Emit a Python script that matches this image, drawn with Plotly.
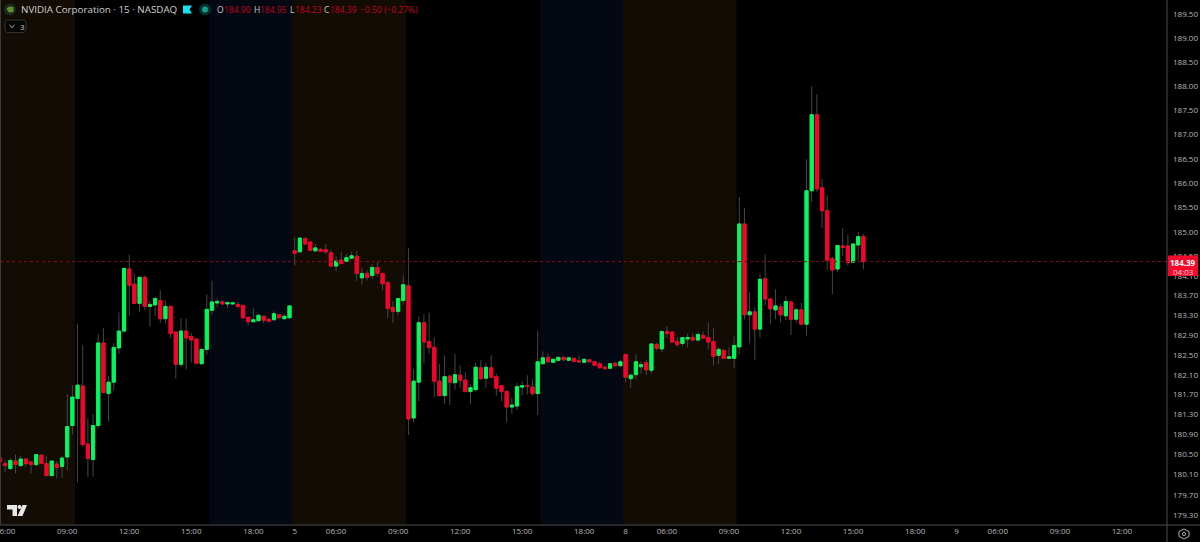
import math
import plotly.graph_objects as go

# ---------- data ----------
session_days = ["2025-09-04", "2025-09-05", "2025-09-08", "2025-09-09"]
first_bar = "2025-09-04 05:45"
bars_per_day_hours = [f"{h:02d}:{m:02d}" for h in range(4, 20) for m in (0, 15, 30, 45)]
all_slots = [f"{d} {t}" for d in session_days for t in bars_per_day_hours]
categories = all_slots[all_slots.index(first_bar):]

opens = [
180.43,180.32,180.22,180.37,180.28,180.41,180.35,180.30,180.49,180.32,
180.08,180.31,180.26,180.45,181.08,181.62,181.87,180.71,180.40,181.08,
182.74,181.72,181.95,182.64,182.98,184.24,183.93,183.54,184.07,183.48,
183.51,183.60,183.23,183.48,182.96,182.31,182.98,182.87,182.82,182.32,
182.61,183.40,183.55,183.57,183.53,183.53,183.52,183.50,183.26,183.17,
183.19,183.28,183.22,183.21,183.31,183.23,183.25,184.61,184.59,184.86,
184.79,184.61,184.64,184.63,184.57,184.30,184.42,184.40,184.46,184.50,
184.06,184.15,184.11,184.27,184.15,183.96,183.46,183.38,183.60,183.90,
181.23,181.95,183.15,182.77,182.65,181.97,181.68,182.07,181.94,182.09,
181.99,181.76,181.80,182.24,182.03,182.24,182.06,181.88,181.76,181.45,
181.47,181.85,181.88,181.85,181.72,182.32,182.45,182.35,182.39,182.45,
182.39,182.43,182.38,182.35,182.40,182.36,182.32,182.25,182.23,182.33,
182.28,182.51,182.02,182.10,182.26,182.34,182.19,182.71,182.62,182.97,
182.96,182.77,182.73,182.82,182.85,182.80,182.89,182.85,182.77,182.49,
182.59,182.43,182.43,182.66,185.16,183.31,183.37,183.02,184.04,183.63,
183.41,183.47,183.29,183.57,183.22,183.41,183.12,185.84,187.41,185.90,
185.43,184.45,184.24,184.71,184.71,184.38,184.73,184.90]
closes = [
180.35,180.28,180.38,180.30,180.41,180.32,180.30,180.50,180.32,180.08,
180.37,180.24,180.43,181.06,181.65,181.89,180.70,180.42,181.08,182.74,
181.74,181.95,182.65,182.98,184.25,183.91,183.54,184.07,183.48,183.52,
183.64,183.23,183.48,182.93,182.31,182.98,182.84,182.80,182.33,182.61,
183.42,183.57,183.58,183.53,183.56,183.55,183.48,183.25,183.17,183.21,
183.30,183.20,183.18,183.33,183.25,183.28,183.49,184.56,184.87,184.75,
184.62,184.67,184.60,184.59,184.30,184.40,184.35,184.47,184.51,184.15,
184.15,184.07,184.27,184.15,183.94,183.44,183.38,183.64,183.92,181.21,
181.97,183.15,182.76,182.65,181.97,181.68,182.06,181.95,182.10,181.99,
181.76,181.84,182.25,182.02,182.25,182.05,181.83,181.76,181.45,181.49,
181.86,181.88,181.87,181.72,182.36,182.44,182.36,182.41,182.45,182.40,
182.44,182.37,182.36,182.41,182.36,182.29,182.24,182.22,182.32,182.28,
182.36,182.05,182.09,182.36,182.30,182.20,182.72,182.63,182.97,182.93,
182.76,182.71,182.85,182.85,182.80,182.91,182.84,182.76,182.47,182.61,
182.43,182.46,182.69,185.16,183.31,183.37,183.02,184.03,183.63,183.43,
183.49,183.31,183.58,183.22,183.41,183.12,185.84,187.41,185.88,185.43,
184.42,184.22,184.72,184.68,184.37,184.75,184.90,184.39]
highs = [
180.47,180.38,180.43,180.50,180.48,180.43,180.37,180.51,180.50,180.47,
180.38,180.37,180.47,181.71,181.89,183.13,182.70,181.22,181.31,182.92,
183.04,182.07,182.74,183.36,184.28,184.53,184.14,184.08,184.11,183.59,
183.68,183.81,183.60,183.50,182.96,183.24,183.23,182.94,182.82,182.63,
183.72,184.00,183.64,183.61,183.56,183.57,183.57,183.50,183.26,183.44,
183.31,183.28,183.23,183.38,183.31,183.32,183.50,184.89,184.87,184.89,
184.80,184.75,184.67,184.75,184.63,184.50,184.59,184.55,184.59,184.61,
184.26,184.21,184.34,184.39,184.16,184.00,183.59,183.64,184.11,184.67,
182.22,183.28,183.32,183.35,182.85,182.32,182.49,182.10,182.52,182.29,
182.15,181.90,182.34,182.40,182.34,182.49,182.12,181.89,181.80,181.64,
181.93,181.97,182.09,182.01,182.99,182.57,182.52,182.43,182.45,182.45,
182.45,182.44,182.49,182.42,182.41,182.37,182.36,182.28,182.32,182.36,
182.40,182.51,182.11,182.51,182.37,182.40,182.72,182.74,182.99,183.08,
182.97,182.86,182.86,182.93,182.93,182.96,182.97,183.15,183.05,182.65,
182.61,182.65,182.87,185.71,185.49,183.77,183.46,184.14,184.54,183.63,
183.83,183.54,183.69,183.57,183.46,183.55,186.49,188.00,187.83,186.08,
185.75,184.49,184.73,185.08,184.94,184.77,185.00,184.95]
lows = [
180.32,180.16,180.20,180.13,180.26,180.25,180.12,180.26,180.32,180.08,
180.07,180.02,180.04,180.18,180.90,179.95,180.65,180.06,180.06,181.02,
181.73,181.16,181.78,182.52,182.97,183.29,183.53,183.36,183.41,183.07,
183.28,183.15,183.13,182.84,182.02,182.25,182.21,182.35,182.31,182.31,
182.50,183.31,183.46,183.52,183.44,183.52,183.44,183.24,183.10,183.15,
183.18,183.14,183.17,183.19,183.23,183.22,183.24,184.31,184.59,184.73,
184.61,184.60,184.59,184.55,184.30,184.19,184.34,184.39,184.44,184.00,
183.92,184.01,184.04,184.09,183.81,183.24,183.14,183.30,183.51,180.89,
181.14,181.57,182.33,182.52,181.65,181.66,181.51,181.49,181.80,181.84,
181.76,181.51,181.76,182.00,181.84,182.03,181.68,181.57,181.15,181.31,
181.39,181.68,181.70,181.68,181.29,182.32,182.35,182.34,182.38,182.37,
182.38,182.36,182.36,182.34,182.35,182.28,182.23,182.21,182.22,182.26,
182.28,181.96,181.84,182.00,182.12,182.10,182.12,182.59,182.55,182.84,
182.74,182.66,182.68,182.65,182.78,182.76,182.82,182.61,182.29,182.32,
182.42,182.42,182.24,182.51,183.22,182.73,182.39,182.85,183.50,183.12,
183.22,183.15,183.20,182.90,183.15,183.12,182.89,185.61,185.82,185.08,
184.22,183.73,184.18,184.51,184.31,184.37,184.42,184.23]

last_price = 184.39
price_ticks = [189.50,189.00,188.50,188.00,187.50,187.00,186.50,186.00,185.50,185.00,
               184.50,184.10,183.70,183.30,182.90,182.50,182.10,181.70,181.30,180.90,
               180.50,180.10,179.70,179.30]
price_window = [179.10, 189.80]

time_ticks = ["2025-09-04 06:00","2025-09-04 09:00","2025-09-04 12:00","2025-09-04 15:00","2025-09-04 18:00",
              "2025-09-05 04:00","2025-09-05 06:00","2025-09-05 09:00","2025-09-05 12:00","2025-09-05 15:00","2025-09-05 18:00",
              "2025-09-08 04:00","2025-09-08 06:00","2025-09-08 09:00","2025-09-08 12:00","2025-09-08 15:00","2025-09-08 18:00",
              "2025-09-09 04:00","2025-09-09 06:00","2025-09-09 09:00","2025-09-09 12:00"]
time_labels = ["06:00","09:00","12:00","15:00","18:00","5","06:00","09:00","12:00","15:00","18:00",
               "8","06:00","09:00","12:00","15:00","18:00","9","06:00","09:00","12:00"]

# pre-market and post-market bands (start slot, end slot, kind)
bands = [("2025-09-04 05:45","2025-09-04 09:30","pre"),
         ("2025-09-04 16:00","2025-09-05 04:00","post"),
         ("2025-09-05 04:00","2025-09-05 09:30","pre"),
         ("2025-09-05 16:00","2025-09-08 04:00","post"),
         ("2025-09-08 04:00","2025-09-08 09:30","pre")]

# ---------- styles ----------
W, H = 1200, 542
PLOT_R, PLOT_B = 1167, 525
UP, DOWN = "#00fa58", "#fb0029"
WICK = "#464646"
AXIS = "#4d4d4d"
TXT = "#b8b8b8"
FONT = "Open Sans"
band_col = {"pre": "#120c04", "post": "#030812"}

def px(x): return x / PLOT_R
def py(y): return 1 - y / PLOT_B

n = len(opens)
xs = categories[:n]
body_lo = [min(a, b) for a, b in zip(opens, closes)]
body_hi = [max(a, b) for a, b in zip(opens, closes)]

fig = go.Figure()
fig.add_trace(go.Candlestick(
    x=xs, open=opens, high=highs, low=lows, close=closes, hoverinfo="skip",
    increasing=dict(line=dict(color=WICK, width=1), fillcolor=WICK),
    decreasing=dict(line=dict(color=WICK, width=1), fillcolor=WICK),
    whiskerwidth=0, showlegend=False))
fig.add_trace(go.Candlestick(
    x=xs, open=opens, high=body_hi, low=body_lo, close=closes, hoverinfo="skip",
    increasing=dict(line=dict(color=UP, width=1), fillcolor=UP),
    decreasing=dict(line=dict(color=DOWN, width=1), fillcolor=DOWN),
    whiskerwidth=0, showlegend=False))

shapes = []
for a, b, kind in bands:
    shapes.append(dict(type="rect", xref="x", yref="paper", layer="below",
                       x0=categories.index(a) - 0.5 if a != first_bar else -1,
                       x1=categories.index(b) - 0.5, y0=0, y1=1,
                       fillcolor=band_col[kind], line_width=0))
shapes.append(dict(type="line", xref="paper", yref="y", x0=0, x1=1, y0=last_price, y1=last_price,
                   line=dict(color="#8c0a1c", width=1, dash="dot"), layer="above"))
# frame lines
shapes += [dict(type="line", xref="paper", yref="paper", x0=1, x1=1, y0=py(542), y1=1,
                line=dict(color=AXIS, width=1)),
           dict(type="line", xref="paper", yref="paper", x0=0, x1=px(1200), y0=0, y1=0,
                line=dict(color=AXIS, width=1)),
           dict(type="line", xref="paper", yref="paper", x0=px(0.5), x1=px(0.5), y0=0, y1=1,
                line=dict(color="#3a3a3a", width=1))]

def rect(x0, y0, x1, y1, fill, line=None, lw=0):
    return dict(type="rect", xref="paper", yref="paper", x0=px(x0), x1=px(x1), y0=py(y0), y1=py(y1),
                fillcolor=fill, line=dict(color=line or fill, width=lw))
def circ(cx, cy, r, fill, line=None, lw=0):
    return dict(type="circle", xref="paper", yref="paper", x0=px(cx-r), x1=px(cx+r), y0=py(cy-r), y1=py(cy+r),
                fillcolor=fill, line=dict(color=line or fill, width=lw))
def poly(points, fill=None, line=None, lw=0, close=True):
    d = "M " + " L ".join(f"{px(a):.5f} {py(b):.5f}" for a, b in points) + (" Z" if close else "")
    return dict(type="path", xref="paper", yref="paper", path=d, fillcolor=fill or "rgba(0,0,0,0)",
                line=dict(color=line or "rgba(0,0,0,0)", width=lw))

# price tag
shapes.append(rect(1168, 255.5, 1198, 276, "#f50a2c"))
# header icons
shapes.append(circ(10, 9.5, 6, "#1c2a1c"))
shapes.append(poly([(6.5,9),(9,6.5),(13.5,7),(13.5,12),(9,12.5)], fill="#5f8f2a"))
shapes.append(poly([(183,5.5),(192,5.5),(189.5,9.5),(192,13.5),(183,13.5)], fill="#12e4f4"))
shapes.append(circ(205, 9.5, 6, "#07302c"))
shapes.append(circ(205, 9.5, 3, "#12a08c"))
# collapse button
shapes.append(dict(type="path", xref="paper", yref="paper",
                   path=f"M {px(7):.5f} {py(20):.5f} L {px(24):.5f} {py(20):.5f} L {px(26):.5f} {py(22):.5f} "
                        f"L {px(26):.5f} {py(30):.5f} L {px(24):.5f} {py(32.5):.5f} L {px(7):.5f} {py(32.5):.5f} "
                        f"L {px(5):.5f} {py(30):.5f} L {px(5):.5f} {py(22):.5f} Z",
                   fillcolor="#060606", line=dict(color="#333333", width=1)))
shapes.append(poly([(9.5,25),(12,27.5),(14.5,25)], line="#bbbbbb", lw=1, close=False))
# TV logo
shapes.append(poly([(7,505),(17,505),(17,516),(12.5,516),(12.5,509.5),(7,509.5)], fill="#e8e8e8"))
shapes.append(circ(19.5, 507, 2, "#e8e8e8"))
shapes.append(poly([(22.5,505),(27,505),(22.5,516),(17.5,516)], fill="#e8e8e8"))
# settings gear
shapes.append(poly([(1184,529),(1189,531.5),(1189,536.5),(1184,539),(1179,536.5),(1179,531.5)], line="#b0b0b0", lw=1))
shapes.append(circ(1184, 534, 1.6, "rgba(0,0,0,0)", line="#b0b0b0", lw=1))

def note(x, y, text, size=9, color=TXT, anchor="left"):
    return dict(xref="paper", yref="paper", x=px(x), y=py(y), text=text, showarrow=False,
                xanchor=anchor, yanchor="middle", align="left", borderpad=0,
                font=dict(family=FONT, size=size, color=color))

V = "#c8001f"
L = "#c9c9c9"
annotations = [
    note(19.5, 9.5, "NVIDIA Corporation · 15 · NASDAQ", size=9.8, color="#cfcfcf"),
    note(216, 9.5, "O", size=8.5, color=L), note(223, 9.5, "184.90", size=8.5, color=V),
    note(252.5, 9.5, "H", size=8.5, color=L), note(259, 9.5, "184.95", size=8.5, color=V),
    note(288.5, 9.5, "L", size=8.5, color=L), note(294, 9.5, "184.23", size=8.5, color=V),
    note(323, 9.5, "C", size=8.5, color=L), note(329, 9.5, "184.39", size=8.5, color=V),
    note(359, 9.5, "−0.50 (−0.27%)", size=8.5, color=V),
    note(18.5, 26, "3", size=8, color=L),
    note(1183, 262, "<b>184.39</b>", size=8, color="#ffffff", anchor="center"),
    note(1183, 271, "04:03", size=8, color="#ffd0d6", anchor="center"),
]

fig.update_layout(
    width=W, height=H, autosize=False,
    paper_bgcolor="#000000", plot_bgcolor="#000000",
    margin=dict(l=0, r=W - PLOT_R, t=0, b=H - PLOT_B, pad=0, autoexpand=False),
    boxmode="overlay", boxgap=0.38, boxgroupgap=0,
    showlegend=False, dragmode=False,
    font=dict(family=FONT, color=TXT, size=8),
    xaxis=dict(type="category", categoryorder="array", categoryarray=categories,
               range=[0, PLOT_R / 5.17], rangeslider=dict(visible=False),
               tickmode="array", tickvals=time_ticks, ticktext=time_labels, tickangle=0,
               showgrid=False, zeroline=False, showline=False, ticks="",
               ticklabeloverflow="allow", tickfont=dict(family=FONT, size=8, color=TXT)),
    yaxis=dict(type="log", side="right", range=[math.log10(price_window[0]), math.log10(price_window[1])],
               tickmode="array", tickvals=price_ticks, ticktext=[f"{p:.2f}" for p in price_ticks],
               showgrid=False, zeroline=False, showline=False, ticks="", ticklabelstandoff=5,
               tickfont=dict(family=FONT, size=8, color=TXT)),
    shapes=shapes, annotations=annotations,
)
fig.write_html("out.html", config=dict(displayModeBar=False),
               post_script="document.documentElement.style.margin='0';document.body.style.margin='0';document.body.style.overflow='hidden';document.body.style.background='#000';")
